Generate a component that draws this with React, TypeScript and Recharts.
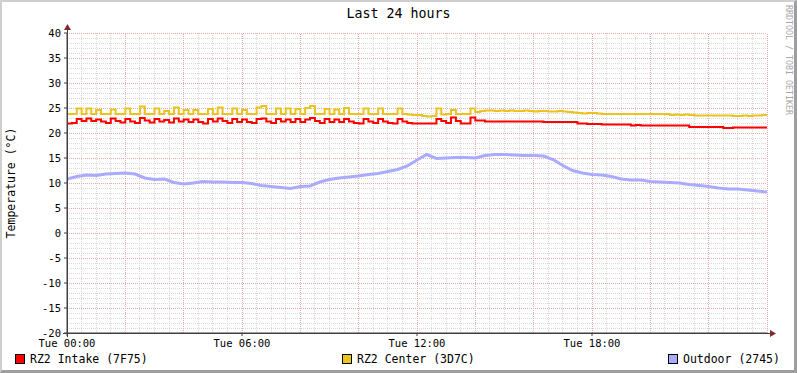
import React from "react";
import { LineChart, Line, XAxis, YAxis, CartesianGrid, ReferenceLine } from "recharts";

// sample times (hours) for the 10-minute series
const HOURS_10MIN: number[] = Array.from({ length: 145 }, (_, i) => i / 6);
// sample times (hours) for the 20-minute outdoor series
const HOURS_20MIN: number[] = Array.from({ length: 73 }, (_, i) => i / 3);

const RZ2_CENTER: number[] = [
  23.8, 23.8, 24.9, 23.8, 24.9, 23.8, 24.6, 23.8, 23.8, 24.7,
  23.8, 23.8, 24.9, 23.8, 23.8, 25.3, 23.8, 23.8, 24.9, 23.8,
  24.4, 23.8, 25.1, 23.8, 24.6, 23.8, 24.6, 23.8, 23.8, 24.8,
  23.8, 25.1, 23.8, 23.8, 24.9, 23.8, 24.6, 23.8, 23.8, 25.1,
  25.4, 23.8, 23.8, 24.9, 23.8, 24.9, 23.8, 24.8, 23.8, 25.0,
  25.4, 23.8, 23.8, 24.8, 23.8, 24.7, 23.8, 25.0, 23.8, 23.8,
  23.8, 24.9, 23.8, 23.8, 24.9, 23.8, 23.8, 23.8, 24.9, 23.8,
  23.7, 23.6, 23.6, 23.4, 23.3, 23.4, 24.9, 23.7, 23.8, 24.6,
  23.8, 23.8, 23.8, 24.9, 24.2, 24.4, 24.5, 24.5, 24.4, 24.5,
  24.4, 24.5, 24.4, 24.4, 24.5, 24.4, 24.3, 24.4, 24.4, 24.3,
  24.3, 24.4, 24.3, 24.2, 24.1, 24.0, 23.9, 24.0, 24.0, 23.9,
  23.8, 23.8, 23.8, 23.8, 23.8, 23.8, 23.8, 23.8, 23.8, 23.8,
  23.8, 23.8, 23.8, 23.8, 23.6, 23.7, 23.6, 23.7, 23.6, 23.5,
  23.5, 23.5, 23.5, 23.5, 23.5, 23.5, 23.5, 23.4, 23.4, 23.5,
  23.4, 23.5, 23.5, 23.6, 23.7,
];

const RZ2_INTAKE: number[] = [
  21.9, 22.0, 22.8, 22.4, 22.9, 22.4, 22.7, 22.3, 22.0, 22.9,
  22.4, 22.1, 22.8, 22.3, 22.0, 23.0, 22.5, 22.1, 22.8, 22.3,
  22.6, 22.1, 22.9, 22.3, 22.7, 22.2, 22.7, 22.2, 21.9, 22.8,
  22.3, 22.9, 22.4, 22.0, 22.8, 22.2, 22.7, 22.2, 22.0, 22.8,
  22.9, 22.3, 22.0, 22.8, 22.3, 22.7, 22.2, 22.8, 22.2, 22.7,
  23.0, 22.4, 22.0, 22.8, 22.2, 22.7, 22.2, 22.8, 22.3, 22.0,
  21.9, 22.8, 22.3, 22.0, 22.8, 22.3, 22.0, 21.9, 22.8, 22.3,
  22.0, 21.9, 21.9, 21.9, 21.9, 21.9, 22.8, 22.4, 22.0, 23.1,
  22.4, 21.9, 21.9, 23.1, 22.5, 22.5, 22.3, 22.3, 22.3, 22.3,
  22.3, 22.3, 22.3, 22.3, 22.3, 22.3, 22.3, 22.3, 22.2, 22.2,
  22.2, 22.2, 22.2, 22.2, 22.2, 21.9, 21.9, 21.8, 21.8, 21.8,
  21.7, 21.7, 21.7, 21.7, 21.7, 21.7, 21.5, 21.6, 21.5, 21.5,
  21.5, 21.5, 21.5, 21.5, 21.5, 21.5, 21.5, 21.5, 21.2, 21.2,
  21.2, 21.2, 21.2, 21.2, 21.2, 21.0, 21.0, 21.1, 21.1, 21.1,
  21.1, 21.1, 21.1, 21.1, 21.1,
];

const OUTDOOR: number[] = [
  10.8, 11.3, 11.6, 11.5, 11.8, 11.9, 12.0, 11.8, 11.0, 10.7,
  10.8, 10.1, 9.8, 10.0, 10.3, 10.2, 10.2, 10.1, 10.1, 9.9,
  9.5, 9.3, 9.1, 8.9, 9.3, 9.4, 10.2, 10.7, 11.0, 11.2,
  11.4, 11.7, 11.9, 12.3, 12.7, 13.4, 14.6, 15.7, 14.9, 15.0,
  15.1, 15.1, 15.0, 15.5, 15.7, 15.7, 15.6, 15.5, 15.5, 15.4,
  14.7, 13.5, 12.5, 12.0, 11.7, 11.6, 11.3, 10.8, 10.6, 10.6,
  10.3, 10.2, 10.1, 10.0, 9.7, 9.5, 9.3, 9.0, 8.8, 8.8,
  8.6, 8.4, 8.2,
];

const Y_TICKS: number[] = [-20, -15, -10, -5, 0, 5, 10, 15, 20, 25, 30, 35, 40];
const X_TICKS: number[] = [0, 6, 12, 18];
const X_TICK_LABELS: string[] = ["Tue 00:00", "Tue 06:00", "Tue 12:00", "Tue 18:00"];

const SERIES_NAMES: string[] = ["RZ2 Intake (7F75)", "RZ2 Center (3D7C)", "Outdoor (2745)"];
const SERIES_COLORS: string[] = ["#FF0000", "#EAC31E", "#AAAAFF"];

const mainData = HOURS_10MIN.map((h, i) => ({ h, intake: RZ2_INTAKE[i], center: RZ2_CENTER[i] }));
const outdoorData = HOURS_20MIN.map((h, i) => ({ h, outdoor: OUTDOOR[i] }));

const minorH = Array.from({ length: 61 }, (_, i) => -20 + i).filter((v) => v % 5 !== 0);
const majorH = Y_TICKS.filter((v) => v !== -20);
const minorV = Array.from({ length: 49 }, (_, i) => i / 2).filter((v) => v % 2 !== 0);
const majorV = Array.from({ length: 13 }, (_, i) => i * 2).filter((v) => v !== 0);

const FONT = "'DejaVu Sans Mono', monospace";
const MAJOR = "#ebaaaa";

export default function App() {
  return (
    <div
      style={{
        position: "absolute",
        left: 0,
        top: 0,
        width: 797,
        height: 373,
        boxSizing: "border-box",
        background: "#ffffff",
        borderTop: "2px solid #cfcfcf",
        borderLeft: "2px solid #cfcfcf",
        borderBottom: "3px solid #9e9e9e",
        borderRight: "3px solid #9e9e9e",
        fontFamily: FONT,
        overflow: "hidden",
      }}
    >
      <div style={{ position: "absolute", left: -2, top: -2, width: 797, height: 373 }}>
        <LineChart
          width={797}
          height={373}
          data={mainData}
          margin={{ top: 33, right: 30, bottom: 20, left: 0 }}
        >
          <CartesianGrid
            horizontalValues={minorH}
            verticalValues={minorV}
            stroke="#d8d8d8"
            strokeDasharray="1 1"
            shapeRendering="crispEdges"
          />
          {majorH.map((v) => (
            <ReferenceLine
              key={"h" + v}
              y={v}
              stroke={MAJOR}
              strokeDasharray="1 1"
              shapeRendering="crispEdges"
            />
          ))}
          {majorV.map((v) => (
            <ReferenceLine
              key={"v" + v}
              x={v}
              stroke={MAJOR}
              strokeDasharray="1 1"
              shapeRendering="crispEdges"
            />
          ))}
          <XAxis
            dataKey="h"
            type="number"
            domain={[0, 24]}
            ticks={X_TICKS}
            tickFormatter={(v: number) => X_TICK_LABELS[X_TICKS.indexOf(v)] ?? ""}
            height={20}
            tickSize={3}
            tickMargin={4}
            stroke="#404040"
            tick={{ fill: "#000", fontSize: 10.5, fontFamily: FONT }}
            interval={0}
            allowDataOverflow
          />
          <YAxis
            type="number"
            domain={[-20, 40]}
            ticks={Y_TICKS}
            width={67}
            tickSize={3}
            tickMargin={3}
            stroke="#404040"
            tick={{ fill: "#000", fontSize: 10.5, fontFamily: FONT }}
            interval={0}
            allowDataOverflow
          />
          <Line
            data={outdoorData}
            dataKey="outdoor"
            type="linear"
            stroke={SERIES_COLORS[2]}
            strokeWidth={3}
            dot={false}
            activeDot={false}
            isAnimationActive={false}
          />
          <Line
            dataKey="center"
            type="stepAfter"
            stroke={SERIES_COLORS[1]}
            strokeWidth={2}
            dot={false}
            activeDot={false}
            isAnimationActive={false}
          />
          <Line
            dataKey="intake"
            type="stepAfter"
            stroke={SERIES_COLORS[0]}
            strokeWidth={2}
            dot={false}
            activeDot={false}
            isAnimationActive={false}
          />
        </LineChart>

        {/* axis arrows */}
        <svg
          width={797}
          height={373}
          style={{ position: "absolute", left: 0, top: 0, pointerEvents: "none" }}
        >
          <line x1={63} y1={333.5} x2={771} y2={333.5} stroke="#404040" strokeWidth={1} />
          <line x1={67.5} y1={337} x2={67.5} y2={29} stroke="#404040" strokeWidth={1} />
          <polygon points="770,330 776,333.5 770,337" fill="#7f2a2a" />
          <polygon points="64,30 67.5,24 71,30" fill="#7f2a2a" />
        </svg>

        {/* title */}
        <div
          style={{
            position: "absolute",
            left: 0,
            width: 797,
            top: 6,
            textAlign: "center",
            fontSize: 13.3,
            color: "#000",
            lineHeight: "16px",
          }}
        >
          Last 24 hours
        </div>

        {/* y axis label */}
        <div
          style={{
            position: "absolute",
            left: 11,
            top: 183,
            transform: "translate(-50%, -50%) rotate(-90deg)",
            whiteSpace: "nowrap",
            fontSize: 11.5,
            color: "#000",
            lineHeight: "14px",
          }}
        >
          Temperature (°C)
        </div>

        {/* watermark */}
        <div
          style={{
            position: "absolute",
            left: 789,
            top: 60,
            transform: "translate(-50%, -50%) rotate(90deg)",
            whiteSpace: "nowrap",
            fontSize: 8.3,
            color: "#a8a8a8",
            lineHeight: "10px",
          }}
        >
          RRDTOOL / TOBI OETIKER
        </div>

        {/* legend */}
        {SERIES_NAMES.map((name, i) => {
          const lefts = [15, 342, 668];
          return (
            <div
              key={name}
              style={{
                position: "absolute",
                left: lefts[i],
                top: 352,
                display: "flex",
                alignItems: "center",
                whiteSpace: "nowrap",
              }}
            >
              <span
                style={{
                  display: "inline-block",
                  width: 8,
                  height: 8,
                  background: SERIES_COLORS[i],
                  border: "1px solid #000",
                }}
              />
              <span style={{ marginLeft: 5, fontSize: 11.5, color: "#000", lineHeight: "14px" }}>
                {name}
              </span>
            </div>
          );
        })}
      </div>
    </div>
  );
}
